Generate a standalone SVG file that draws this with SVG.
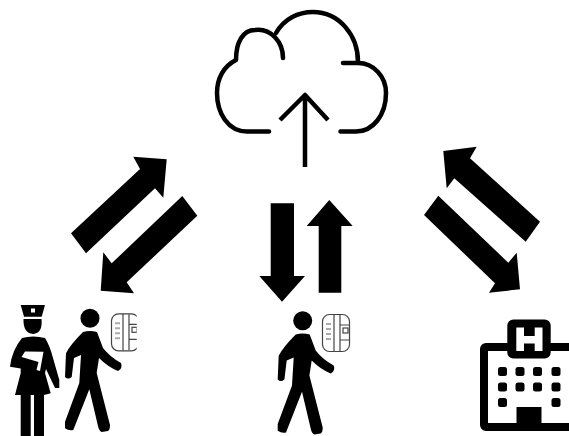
<svg xmlns="http://www.w3.org/2000/svg" width="569" height="436" viewBox="0 0 569 436">
<style>
.cl{fill:none;stroke:#000;stroke-width:4.500;stroke-linecap:round;stroke-linejoin:round}
.dv{fill:none;stroke:#444;stroke-width:1.200}
.dk{fill:#000}
.wh{fill:#fff}
</style>
<defs>
<clipPath id="c1"><rect x="100" y="305" width="36.700" height="60"/></clipPath>
<g id="walker">
<circle cx="90" cy="318.300" r="9.500"/>
<path d="M83 332Q90 330 97 332L103 348Q110 357 121 363Q123 368 118 371Q108 367 99 358L96.700 373L110 425Q110 430 108 431L101.700 432Q99 431 98 426L89.300 389.300L73.300 430Q69 431 65 428.300L65 421.700L79.300 383L81 355L74 358L71.700 377Q68 380 65 377L66 353.300Q70 345 83 332Z"/>
</g>
<g id="device" class="dv">
<rect x="322.500" y="314.500" width="27" height="37" rx="7"/>
<path d="M334 314.500V351.500M340 315V351M340 325H350M340 340H350"/>
<rect x="343" y="328" width="5" height="5"/>
<path d="M326 324H331M326 329H331M326 334H331M326 339H331" stroke="#aaa" stroke-width="2"/>
</g>
</defs>
<g id="connectors">
<path class="dk" d="M71 233.300L140 169L133.300 156.700L166.700 159.300L163.300 197.700L155 188.300L86 253.300Z"/>
<path class="dk" d="M182.300 196L197.300 215.700L126.700 282.300L134 293.300L100.700 290.700L103.300 252.300L111.700 263.300Z"/>
<path class="dk" d="M270.700 203.300H294V276H305L282 301.700L259.300 276H270.700Z"/>
<path class="dk" d="M329.300 200L352.700 226H341.300V292.700H318.700V226H306.700Z"/>
<path class="dk" d="M540 221.700L525.700 241.700L454.300 178.300L446.700 188.300L443.300 151L476.700 146.700L470 158.300Z"/>
<path class="dk" d="M438.300 195.700L424 215L495 283.300L489 292.700L520 289.300L516.700 252.700L508.300 262.700Z"/>
</g>
<g id="cloud">
<path class="cl" d="M269 131.500H247C228 131.500 217 113 217 93C217 78 224 66 236 60C236 42 243 30 255 30C271 28 283 42 283 58"/>
<path class="cl" d="M276 33C284 19 298 12 313 12C339 12 358 35 358 62"/>
<path class="cl" d="M343 63H358C374 63 386 77 386 93C386 115 373 131.500 356 131.500H340.500"/>
<path class="cl" d="M305 167V96M280 120L305 95L328 120" style="stroke-linecap:butt"/>
</g>
<g id="nurse">
<path class="dk" d="M20.700 305H45L41.700 316.700H24Z"/>
<path class="wh" d="M31 308.500H35V312.500H31Z"/>
<path class="dk" d="M23.500 319H41.500Q43 333 33 334Q23 333 23.500 319Z"/>
<path class="dk" d="M22 338Q33 335 45 338Q50 346 53 358L59.300 380V388L55 388L46 369L45 373L50.700 393.300L44 395V436H34V395H30.700V436H20.700V395L15 395L20.700 373V368.500L10 366.700Q12 350 22 338Z"/>
<path class="wh" d="M25 351.500L43.500 351.700L40 371L36.500 370L38.500 362L21.500 357Z"/>
</g>
<g id="person1">
<use href="#walker"/>
<g clip-path="url(#c1)"><use href="#device" transform="translate(-211 -0.700)"/></g>
</g>
<g id="person2">
<use href="#walker" transform="translate(212.700 2.400)"/>
<use href="#device"/>
</g>
<g id="hospital">
<rect x="484" y="347" width="94" height="80" rx="2" fill="#fff" stroke="#000" stroke-width="8"/>
<rect x="507.300" y="319.500" width="43.400" height="39" rx="6"/>
<path class="wh" d="M516.300 327.500H524V336H534.700V327.500H542.500V351H534.700V343.500H524V351H516.300Z"/>
<g class="dk">
<rect x="498" y="367" width="9" height="9" rx="2.500"/><rect x="515.500" y="367" width="9" height="9" rx="2.500"/><rect x="533" y="367" width="9" height="9" rx="2.500"/><rect x="551.500" y="367" width="9" height="9" rx="2.500"/>
<rect x="498" y="382.500" width="9" height="9" rx="2.500"/><rect x="515.500" y="382.500" width="9" height="9" rx="2.500"/><rect x="533" y="382.500" width="9" height="9" rx="2.500"/><rect x="551.500" y="382.500" width="9" height="9" rx="2.500"/>
<rect x="498" y="398" width="9" height="9" rx="2.500"/><rect x="551.500" y="398" width="9" height="9" rx="2.500"/>
<rect x="516.500" y="407" width="25" height="22"/>
</g>
</g>
</svg>
